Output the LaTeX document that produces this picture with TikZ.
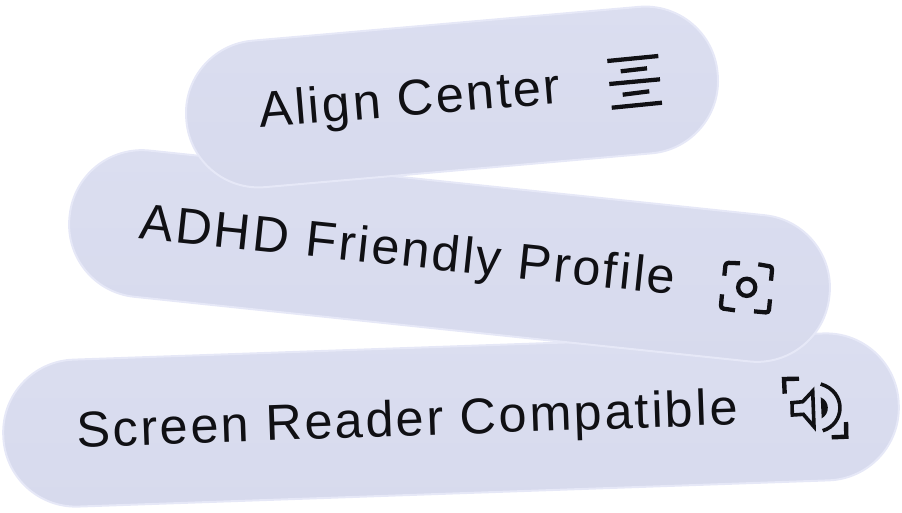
\documentclass[tikz,border=0pt]{standalone}
\usepackage{fontspec}
\setmainfont{Liberation Sans}[LetterSpace=5]
\begin{document}
\begin{tikzpicture}[x=0.75pt,y=-0.75pt,
  pill/.style={shape=rectangle,rounded corners=54.5pt,minimum height=110.25pt,inner sep=0pt,
    draw=edgeC,line width=1.5pt,top color=pillTop,bottom color=pillBot,shading angle=0},
  lab/.style={anchor=base,inner sep=0pt,text=inkC,font=\fontsize{37.8}{40}\selectfont},
  ico/.style={draw=inkC,line width=3.2pt,fill=none},
  icoT/.style={draw=inkC,line width=2.7pt,fill=none,line join=miter},
  icoB/.style={draw=inkC,line width=3.3pt,fill=none,line join=miter}]
\definecolor{edgeC}{HTML}{E6E8F7}
\definecolor{pillTop}{HTML}{DBDEF0}
\definecolor{pillBot}{HTML}{D7DAED}
\definecolor{inkC}{HTML}{101014}
\useasboundingbox (0,0) rectangle (902,512);
\node[pill,minimum width=672pt,rotate=2.0] (screen) at (451,420) {};
\node[pill,minimum width=573pt,rotate=-6] (adhd) at (449.5,256) {};
\node[pill,minimum width=400pt,rotate=5] (align) at (452,97) {};
\node[lab,rotate=2] (t3) at (408,436) {Screen Reader Compatible};
\node[lab,rotate=-6] (t2) at (406,266.5) {ADHD Friendly Profile};
\node[lab,rotate=4.7] (t1) at (411,115.5) {Align Center};
% align icon
\draw[ico] (607.3,61)--(658.3,56);
\draw[ico] (620.7,71.3)--(647,68.3);
\draw[ico] (609.3,84)--(660,79.3);
\draw[ico] (622.7,94.7)--(649.3,91.3);
\draw[ico] (611.7,107.7)--(662,102.7);
% focus icon
\draw[ico,rounded corners=2.2pt] (724.3,275.7)--(725.7,262.7)--(740,263.3);
\draw[ico,rounded corners=2.2pt] (758.3,264.3)--(772.3,266.7)--(771,280.7);
\draw[ico,rounded corners=2.2pt] (722,294.3)--(720.7,308.3)--(735,310.3);
\draw[ico,rounded corners=2.2pt] (770,299.3)--(768.7,312.7)--(754,311.3);
\draw[ico] (746.7,287.3) circle[radius=8.6];
% speaker icon
\draw[icoB] (784.7,393.7)--(784,379)--(799,378.7);
\draw[icoB] (846,422)--(846.3,436.7)--(831.7,437.3);
\draw[icoT] (792,402.7)--(802.7,401.7)--(812.7,391)--(814,426.7)--(803.3,414.3)--(792.3,415)--cycle;
\fill[inkC] (820.7,397.3) .. controls (830,401) and (830,414) .. (821.7,418.3)--cycle;
\draw[icoT] (820.7,384) .. controls (847,392) and (845,424) .. (822.7,430.7);
\end{tikzpicture}
\end{document}
